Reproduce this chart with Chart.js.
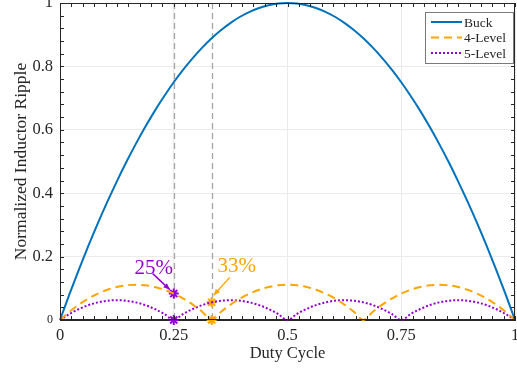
<!DOCTYPE html>
<html>
<head>
<meta charset="utf-8">
<script src="https://cdn.jsdelivr.net/npm/chart.js@4"></script>
<style>
  html, body { margin: 0; padding: 0; background: #fff; }
  #wrap { width: 517px; height: 371px; }
</style>
</head>
<body>
<div id="wrap"><canvas id="ripple"></canvas></div>
<script>
// duty cycle samples (step 1/48)
const dutyCycle = [0, 0.0208, 0.0417, 0.0625, 0.0833, 0.1042, 0.125, 0.1458, 0.1667, 0.1875,
  0.2083, 0.2292, 0.25, 0.2708, 0.2917, 0.3125, 0.3333, 0.3542, 0.375, 0.3958,
  0.4167, 0.4375, 0.4583, 0.4792, 0.5, 0.5208, 0.5417, 0.5625, 0.5833, 0.6042,
  0.625, 0.6458, 0.6667, 0.6875, 0.7083, 0.7292, 0.75, 0.7708, 0.7917, 0.8125,
  0.8333, 0.8542, 0.875, 0.8958, 0.9167, 0.9375, 0.9583, 0.9792, 1];

const buckRipple = [0, 0.0816, 0.1597, 0.2344, 0.3056, 0.3733, 0.4375, 0.4983, 0.5556, 0.6094,
  0.6597, 0.7066, 0.75, 0.7899, 0.8264, 0.8594, 0.8889, 0.9149, 0.9375, 0.9566,
  0.9722, 0.9844, 0.9931, 0.9983, 1, 0.9983, 0.9931, 0.9844, 0.9722, 0.9566,
  0.9375, 0.9149, 0.8889, 0.8594, 0.8264, 0.7899, 0.75, 0.7066, 0.6597, 0.6094,
  0.5556, 0.4983, 0.4375, 0.3733, 0.3056, 0.2344, 0.1597, 0.0816, 0];

const level4Ripple = [0, 0.026, 0.0486, 0.0677, 0.0833, 0.0955, 0.1042, 0.1094, 0.1111, 0.1094,
  0.1042, 0.0955, 0.0833, 0.0677, 0.0486, 0.026, 0, 0.026, 0.0486, 0.0677,
  0.0833, 0.0955, 0.1042, 0.1094, 0.1111, 0.1094, 0.1042, 0.0955, 0.0833, 0.0677,
  0.0486, 0.026, 0, 0.026, 0.0486, 0.0677, 0.0833, 0.0955, 0.1042, 0.1094,
  0.1111, 0.1094, 0.1042, 0.0955, 0.0833, 0.0677, 0.0486, 0.026, 0];

const level5Ripple = [0, 0.0191, 0.0347, 0.0469, 0.0556, 0.0608, 0.0625, 0.0608, 0.0556, 0.0469,
  0.0347, 0.0191, 0, 0.0191, 0.0347, 0.0469, 0.0556, 0.0608, 0.0625, 0.0608,
  0.0556, 0.0469, 0.0347, 0.0191, 0, 0.0191, 0.0347, 0.0469, 0.0556, 0.0608,
  0.0625, 0.0608, 0.0556, 0.0469, 0.0347, 0.0191, 0, 0.0191, 0.0347, 0.0469,
  0.0556, 0.0608, 0.0625, 0.0608, 0.0556, 0.0469, 0.0347, 0.0191, 0];

// highlighted operating points
const mark25Duty = [0.25, 0.25];
const mark25Ripple = [0.0833, 0];
const mark33Duty = [0.3333, 0.3333];
const mark33Ripple = [0.0556, 0];
const markLines = [0.25, 0.3333];

const xTickLabels = ['0', '0.25', '0.5', '0.75', '1'];
const yTickLabels = ['0', '0.2', '0.4', '0.6', '0.8', '1'];

const colors = { buck: '#0072BD', l4: '#FFA500', l5: '#9400D3' };
const SERIF = "'Liberation Serif', 'Times New Roman', serif";
const INK = '#262626';

const pts = (xs, ys) => xs.map((x, i) => ({ x: x, y: ys[i] }));

const framePlugin = {
  id: 'frame',
  beforeDatasetsDraw(chart) {
    const { ctx, chartArea: a, scales: { x } } = chart;
    ctx.save();
    ctx.strokeStyle = '#a6a6a6';
    ctx.lineWidth = 1.3;
    ctx.setLineDash([6, 4]);
    markLines.forEach(v => {
      const px = Math.round(x.getPixelForValue(v)) + 0.5;
      ctx.beginPath();
      ctx.moveTo(px, a.top);
      ctx.lineTo(px, a.bottom);
      ctx.stroke();
    });
    ctx.restore();
  },
  afterDatasetsDraw(chart) {
    const { ctx, chartArea: a, scales: { x, y } } = chart;
    ctx.save();
    ctx.strokeStyle = INK;
    ctx.lineWidth = 1;
    ctx.strokeRect(a.left + 0.5, a.top + 0.5, a.right - a.left - 1, a.bottom - a.top - 1);
    // minor ticks, inward on all four sides
    ctx.beginPath();
    for (let i = 0; i <= 40; i++) {
      const px = Math.round(x.getPixelForValue(i / 40)) + 0.5;
      ctx.moveTo(px, a.bottom); ctx.lineTo(px, a.bottom - 4);
      ctx.moveTo(px, a.top); ctx.lineTo(px, a.top + 4);
    }
    for (let i = 0; i <= 25; i++) {
      const py = Math.round(y.getPixelForValue(i / 25)) + 0.5;
      ctx.moveTo(a.left, py); ctx.lineTo(a.left + 4, py);
      ctx.moveTo(a.right, py); ctx.lineTo(a.right - 4, py);
    }
    ctx.stroke();
    ctx.restore();
  },
  afterDraw(chart) {
    const { ctx, scales: { x, y } } = chart;
    ctx.save();
    // annotations
    const arrow = (x1, y1, x2, y2, col) => {
      ctx.strokeStyle = col; ctx.fillStyle = col; ctx.lineWidth = 1.5;
      ctx.beginPath(); ctx.moveTo(x1, y1); ctx.lineTo(x2, y2); ctx.stroke();
      const ang = Math.atan2(y2 - y1, x2 - x1), h = 7;
      ctx.beginPath();
      ctx.moveTo(x2, y2);
      ctx.lineTo(x2 - h * Math.cos(ang - 0.4), y2 - h * Math.sin(ang - 0.4));
      ctx.lineTo(x2 - h * Math.cos(ang + 0.4), y2 - h * Math.sin(ang + 0.4));
      ctx.closePath(); ctx.fill();
    };
    const p25x = x.getPixelForValue(mark25Duty[0]), p25y = y.getPixelForValue(mark25Ripple[0]);
    const p33x = x.getPixelForValue(mark33Duty[0]), p33y = y.getPixelForValue(mark33Ripple[0]);
    ctx.font = '21px ' + SERIF;
    ctx.textBaseline = 'alphabetic';
    ctx.textAlign = 'center';
    ctx.fillStyle = colors.l5;
    ctx.fillText('25%', p25x - 20, p25y - 20);
    arrow(p25x - 21, p25y - 20, p25x - 4, p25y - 4, colors.l5);
    ctx.fillStyle = colors.l4;
    ctx.fillText('33%', p33x + 25, p33y - 30);
    arrow(p33x + 18, p33y - 25, p33x + 2, p33y - 7, colors.l4);

    // legend box
    const lx = 425, ly = 12, lw = 88, lh = 51;
    ctx.fillStyle = '#fff';
    ctx.fillRect(lx, ly, lw, lh);
    ctx.strokeStyle = '#7a7a7a'; ctx.lineWidth = 1;
    ctx.strokeRect(lx + 0.5, ly + 0.5, lw, lh);
    ctx.font = '13.5px ' + SERIF;
    ctx.textAlign = 'left';
    ctx.textBaseline = 'middle';
    chart.data.datasets.slice(0, 3).forEach((ds, i) => {
      const yy = ly + 10 + i * 15.5;
      ctx.strokeStyle = ds.borderColor;
      ctx.lineWidth = 2;
      ctx.setLineDash(ds.borderDash || []);
      ctx.beginPath(); ctx.moveTo(lx + 6, yy); ctx.lineTo(lx + 37, yy); ctx.stroke();
      ctx.setLineDash([]);
      ctx.fillStyle = INK;
      ctx.fillText(ds.label, lx + 39, yy + 1);
    });
    ctx.restore();
  }
};

new Chart(document.getElementById('ripple'), {
  type: 'line',
  data: {
    datasets: [
      { label: 'Buck', data: pts(dutyCycle, buckRipple), borderColor: colors.buck, borderWidth: 2 },
      { label: '4-Level', data: pts(dutyCycle, level4Ripple), borderColor: colors.l4, borderWidth: 2, borderDash: [8, 5] },
      { label: '5-Level', data: pts(dutyCycle, level5Ripple), borderColor: colors.l5, borderWidth: 2, borderDash: [2, 2] },
      { label: '25%', data: pts(mark25Duty, mark25Ripple), showLine: false, pointStyle: 'star',
        pointRadius: 5, borderColor: colors.l5, pointBorderWidth: 2 },
      { label: '33%', data: pts(mark33Duty, mark33Ripple), showLine: false, pointStyle: 'star',
        pointRadius: 5, borderColor: colors.l4, pointBorderWidth: 2 }
    ]
  },
  options: {
    responsive: true,
    maintainAspectRatio: false,
    animation: false,
    layout: { autoPadding: false, padding: { top: 3, right: 2 } },
    elements: {
      line: { fill: false, cubicInterpolationMode: 'monotone' },
      point: { radius: 0 }
    },
    datasets: { line: { clip: false } },
    plugins: { legend: { display: false }, tooltip: { enabled: false } },
    scales: {
      x: {
        type: 'linear', min: 0, max: 1,
        afterFit: s => { s.height = 51; s.paddingLeft = 0; s.paddingRight = 0; },
        afterBuildTicks: s => { s.ticks = xTickLabels.map(t => ({ value: parseFloat(t) })); },
        grid: { color: '#ebebeb', drawTicks: false },
        border: { color: INK },
        ticks: {
          padding: 6, color: INK, font: { family: SERIF, size: 16.5 },
          callback: (v, i) => xTickLabels[i]
        },
        title: { display: true, text: 'Duty Cycle', color: INK,
          font: { family: SERIF, size: 16.5 }, padding: { top: 0, bottom: 7 } }
      },
      y: {
        type: 'linear', min: 0, max: 1,
        afterFit: s => { s.width = 60; s.paddingTop = 0; s.paddingBottom = 0; },
        afterBuildTicks: s => { s.ticks = yTickLabels.map(t => ({ value: parseFloat(t) })); },
        grid: { color: '#ebebeb', drawTicks: false },
        border: { color: INK },
        ticks: {
          padding: 7, color: INK,
          font: c => ({ family: SERIF, size: c.tick && c.tick.value === 0 ? 12 : 16.5 }),
          callback: (v, i) => yTickLabels[i]
        },
        title: { display: true, text: 'Normalized Inductor Ripple', color: INK,
          font: { family: SERIF, size: 17.5 }, padding: { top: 11, bottom: 0 } }
      }
    }
  },
  plugins: [framePlugin]
});
</script>
</body>
</html>
